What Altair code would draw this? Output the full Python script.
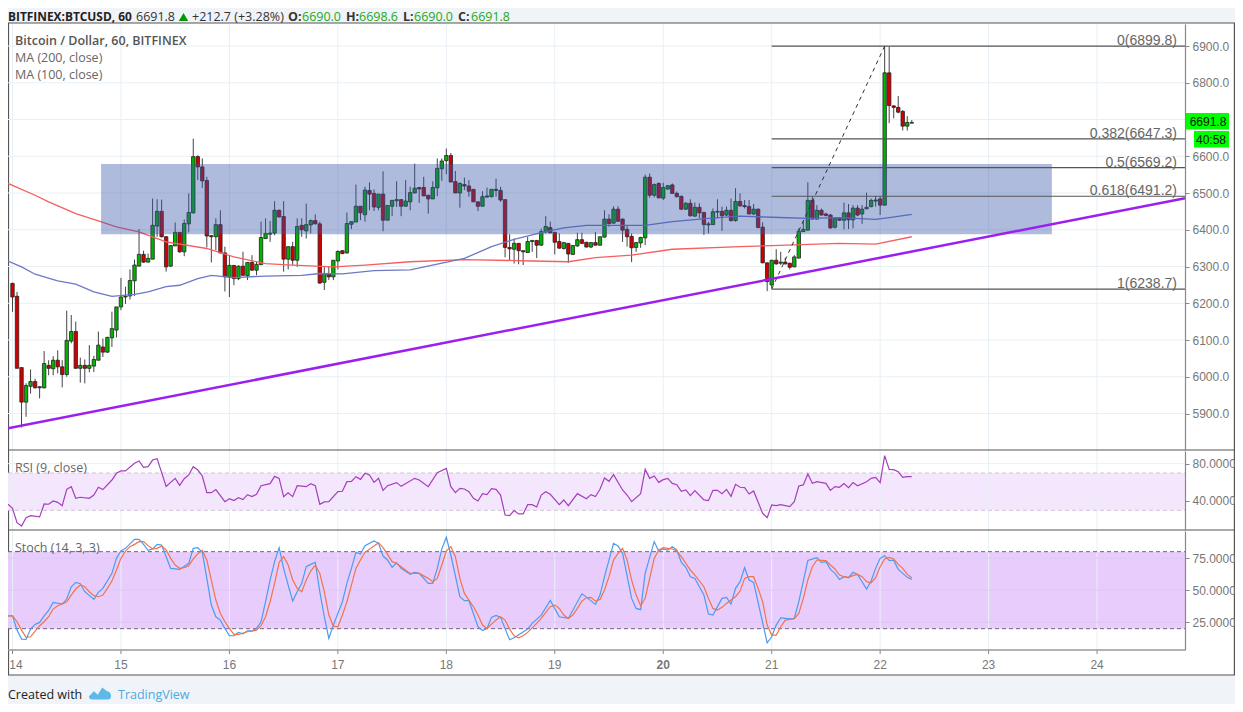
import altair as alt
import pandas as pd

opens = [6254,6219,6025,5931,5974,5987,5970,5970,6031,6022,
6045,6027,6006,6097,6123,6023,6031,6023,6029,6045,
6081,6067,6106,6127,6190,6217,6220,6261,6301,6333,
6312,6320,6410,6450,6381,6301,6356,6393,6340,6416,
6446,6599,6571,6534,6384,6381,6414,6337,6271,6303,
6267,6301,6275,6311,6290,6305,6376,6388,6391,6453,
6436,6320,6354,6317,6412,6397,6413,6425,6416,6257,
6280,6272,6315,6343,6337,6415,6421,6464,6441,6507,
6499,6461,6497,6426,6464,6479,6482,6464,6476,6500,
6515,6515,6494,6484,6514,6566,6588,6602,6531,6500,
6523,6519,6510,6476,6464,6489,6490,6510,6507,6482,
6352,6347,6363,6343,6338,6368,6371,6358,6394,6406,
6393,6368,6349,6363,6333,6356,6373,6366,6353,6365,
6358,6380,6429,6418,6456,6429,6401,6382,6352,6364,
6378,6543,6494,6526,6486,6511,6522,6499,6491,6456,
6472,6437,6461,6447,6413,6414,6448,6450,6440,6453,
6425,6477,6466,6463,6443,6456,6407,6310,6250,6317,
6309,6312,6309,6299,6323,6395,6399,6480,6429,6453,
6443,6440,6407,6431,6426,6446,6427,6459,6443,6457,
6463,6478,6484,6467,6827,6737,6733,6722,6682,6690]
closes = [6217,6023,5931,5976,5987,5970,5973,6036,6023,6045,
6027,6006,6099,6123,6023,6031,6023,6031,6047,6086,
6067,6107,6131,6190,6217,6219,6262,6304,6333,6312,
6322,6412,6450,6381,6299,6357,6393,6340,6417,6447,
6599,6571,6533,6383,6381,6414,6337,6272,6303,6267,
6301,6276,6311,6290,6306,6379,6390,6391,6453,6435,
6320,6354,6317,6409,6400,6414,6425,6416,6255,6280,
6272,6317,6341,6335,6417,6422,6464,6446,6508,6497,
6462,6497,6426,6466,6480,6482,6464,6478,6501,6513,
6511,6492,6484,6515,6567,6587,6602,6530,6500,6526,
6519,6505,6476,6464,6490,6492,6510,6507,6481,6352,
6348,6363,6343,6340,6368,6371,6358,6395,6409,6392,
6366,6350,6365,6334,6357,6373,6363,6353,6365,6358,
6381,6429,6417,6456,6423,6399,6381,6351,6365,6379,
6543,6494,6523,6487,6515,6520,6499,6490,6456,6472,
6438,6461,6446,6414,6416,6449,6450,6438,6453,6425,
6477,6465,6463,6443,6456,6406,6310,6259,6317,6307,
6312,6307,6298,6326,6396,6401,6480,6429,6453,6440,
6439,6405,6431,6426,6446,6427,6459,6440,6456,6461,
6480,6481,6467,6827,6738,6733,6720,6682,6692,6691.8]
highs = [6256,6231,6025,5982,6020,5995,5974,6070,6045,6056,
6072,6045,6180,6168,6150,6052,6047,6086,6057,6123,
6104,6109,6177,6190,6269,6245,6292,6319,6402,6343,
6335,6485,6483,6482,6383,6358,6420,6394,6428,6499,
6648,6603,6594,6544,6385,6431,6453,6354,6331,6303,
6303,6340,6312,6331,6313,6422,6431,6424,6478,6455,
6478,6354,6367,6431,6431,6471,6428,6442,6422,6301,
6301,6317,6344,6344,6447,6423,6523,6464,6517,6529,
6510,6497,6559,6466,6481,6532,6482,6535,6517,6580,
6515,6544,6494,6532,6594,6594,6621,6609,6560,6529,
6542,6535,6510,6476,6505,6515,6510,6539,6517,6482,
6388,6376,6363,6344,6381,6371,6371,6403,6437,6422,
6394,6390,6367,6363,6358,6392,6392,6367,6366,6394,
6381,6453,6442,6464,6464,6431,6413,6390,6367,6381,
6550,6553,6526,6529,6528,6521,6526,6504,6493,6476,
6483,6474,6472,6449,6422,6458,6483,6463,6463,6485,
6513,6499,6481,6481,6470,6458,6420,6311,6318,6347,
6340,6324,6310,6331,6404,6426,6529,6490,6467,6458,
6446,6443,6432,6431,6474,6470,6467,6467,6467,6501,
6485,6492,6490,6899.8,6898,6739,6764,6726,6709,6698.6]
lows = [6177,6023,5862,5891,5954,5968,5941,5968,6004,6004,
6009,5971,6000,6091,6022,5984,5982,6012,6013,6045,
6054,6065,6081,6107,6181,6198,6210,6220,6301,6310,
6311,6320,6381,6379,6286,6299,6356,6337,6328,6393,
6444,6535,6514,6352,6311,6344,6335,6232,6217,6249,
6263,6276,6263,6288,6276,6304,6376,6367,6385,6433,
6286,6292,6304,6299,6381,6376,6390,6415,6253,6236,
6263,6263,6292,6334,6335,6402,6421,6426,6422,6453,
6451,6453,6396,6426,6437,6462,6437,6464,6453,6500,
6473,6492,6444,6484,6491,6533,6551,6529,6500,6460,
6508,6490,6476,6451,6464,6487,6488,6490,6476,6325,
6315,6308,6306,6304,6337,6340,6323,6356,6390,6390,
6333,6348,6346,6310,6331,6354,6361,6352,6350,6357,
6357,6379,6408,6417,6422,6367,6354,6312,6340,6351,
6358,6487,6488,6485,6481,6508,6499,6488,6454,6454,
6436,6436,6431,6386,6390,6413,6431,6397,6437,6422,
6422,6463,6458,6442,6440,6404,6309,6233,6241,6305,
6304,6306,6292,6298,6322,6395,6397,6428,6428,6439,
6436,6403,6403,6424,6401,6402,6404,6437,6416,6456,
6461,6463,6440,6467,6690,6703,6717,6670,6670,6690]

ma200_h = [-1,5,8,14,19,23,28,34,43,49,56,62,71,78,88,100,115,123,129,137,146,161,168,183,191,199]
ma200_v = [6526,6494,6476,6444,6424,6408,6394,6367,6349,6326,6308,6304,6299,6304,6313,6319,6315,6313,6324,6331,6347,6354,6357,6363,6361,6381]
ma100_h = [-1,2,5,10,14,18,22,27,30,34,37,41,44,49,56,64,68,73,80,88,100,106,111,117,122,127,133,140,146,154,161,168,176,183,191,194,199]
ma100_v = [6315,6299,6279,6261,6252,6231,6219,6224,6231,6245,6249,6267,6276,6270,6274,6276,6281,6280,6289,6291,6322,6354,6374,6392,6405,6412,6412,6412,6422,6431,6437,6434,6431,6433,6428,6433,6442]

rsi_h = [-1,0,1,2,3,4,6,7,8,9,10,11,12,13,14,15,17,18,19,20,22,23,24,25,27,28,29,30,31,32,34,36,37,38,39,40,41,42,43,44,45,47,48,49,50,51,52,53,54,55,57,58,59,60,61,62,63,65,66,67,68,69,70,72,73,74,75,76,77,78,79,80,81,82,83,85,86,89,
90,92,94,96,97,98,99,100,101,102,103,104,105,106,107,108,109,110,111,112,113,114,115,116,117,118,119,121,122,123,125,127,128,129,130,131,132,133,135,136,137,139,140,141,142,143,144,145,146,147,148,149,150,151,153,154,155,156,157,158,159,160,161,162,163,164,166,167,168,169,170,172,173,174,175,176,177,178,180,181,182,183,
184,185,186,187,189,190,191,192,193,194,195,196,197,198,199]
rsi_v = [36.5,32.2,16.8,13.2,22.2,24.3,22.9,36.8,36.5,40,38.6,35,52.5,55.4,42.9,44,42.9,46.4,54.7,52.2,62.5,69.7,72.2,72.2,80.4,82.9,76.1,76.8,83.9,85.4,55.7,64.3,56.8,63.9,67.9,76.8,73.2,66.8,48.9,48.9,52.2,39.3,42.5,40.4,43.6,41.5,46.8,44.7,47.2,56.4,58.6,66.4,64.3,44.7,48.9,44.7,56.4,55.4,58.6,56.4,36.5,39,39.3,50,50.4,60.7,61.1,66.1,63.2,69.7,67.9,60,64.3,51.4,56.4,59.7,55.7,64.3,
62.5,55.4,70.4,75,55.4,48.9,53.6,52.9,50,42.9,40,47.9,46.8,53.2,52.5,46.4,25,24.3,29.7,26.1,26.1,36.1,36.1,33.6,46.4,50,47.2,36.1,41.1,35,47.9,42.5,46.8,44.7,52.5,64.7,61.1,68.2,51.8,46.4,39.3,47.9,73.9,64.3,66.8,60,62.9,64.3,58.9,57.5,50.4,51.8,45.7,51.1,41.1,40.4,51.4,51.4,47.9,52.5,45,57.9,54.7,54.3,47.5,50.7,26.8,22.2,35.7,35,36.1,34,39.3,56.1,57.2,68.9,58.9,60.7,58.9,51.4,55.4,54.7,
58.6,54.3,59.7,56.4,60.7,64.3,65.4,59.7,88.6,73.9,73.6,71.4,65.4,66.1,66.1]

k_h = [-1,0,1,2,3,4,5,6,7,8,9,11,12,13,14,15,16,18,19,20,22,23,24,25,27,28,29,30,31,32,33,34,35,37,39,40,41,42,43,44,45,46,47,48,49,50,51,52,53,54,55,56,57,58,59,60,61,62,63,64,65,66,67,68,69,70,71,73,74,75,76,77,78,80,81,82,83,84,85,86,88,89,
90,92,93,94,95,96,97,99,100,101,103,104,105,106,107,108,110,111,114,115,117,119,121,123,126,127,129,130,131,133,134,135,137,138,139,140,142,143,144,145,146,147,148,149,150,151,153,154,155,157,158,159,160,161,162,163,164,167,168,169,170,172,173,174,176,178,179,180,181,182,183,
184,185,186,187,188,189,190,191,192,193,194,195,196,197,198,199]
k_v = [30,30,18.9,11.9,11.6,19.7,23.3,24.9,30,34.2,40.5,39.2,43.1,52.7,56.1,55,48.8,42.8,48.3,51.4,63.1,74.8,80.5,82.6,89.6,89.6,85.7,81,82.1,85.7,85.2,76.1,67,66.2,70.9,82.6,83.1,79.5,59.2,38.4,29.3,26.7,20.2,14.5,14.5,17.1,16,18.4,18.4,20.2,25.4,41,57.9,72.2,83.1,67,54,41.5,48.8,55.3,68.3,70.1,71.7,48.8,29.3,12.4,22.8,41,55.3,67,79.5,78.2,84.7,88.3,86.5,76.6,73.5,67.8,71.2,67,62.3,63.9,
63.1,55.3,55.3,67,82.1,91.2,77.4,44.9,41.8,41.8,21.5,18.6,20.2,28.8,30.3,28.8,11.4,12.9,19.7,24.1,30.6,42,29.3,28,47.2,44.6,38.9,46.2,60.5,86.5,84.4,78.7,43.6,35.8,34.8,63.1,87.8,80.5,82.1,81.3,83.9,81.3,71.7,67.8,60.5,59.2,46.2,31.4,30.6,43.6,44.4,39.2,51.4,56.6,67.5,57.9,56.1,9,13.7,22.8,28.5,27.7,28,41,73.2,75.3,71.7,72.2,66.2,63.1,58.4,
60.5,59.7,63.9,62.3,56.6,50.9,57.1,67,74.8,76.9,73.2,73.2,66.2,63.1,60,58.4]

d_h = [-1,0,1,2,3,4,5,6,7,8,9,10,11,12,13,14,15,16,17,18,19,20,21,22,23,24,25,26,27,28,29,30,31,32,33,34,35,36,37,38,39,40,41,42,43,44,45,46,47,48,49,50,52,53,54,55,56,57,58,59,60,61,62,63,64,65,66,67,68,69,70,71,72,73,74,75,76,77,78,80,81,82,83,84,85,86,88,
90,92,93,94,95,96,97,98,99,100,101,102,103,104,105,106,107,108,109,110,111,112,113,114,116,117,118,119,120,121,122,123,124,125,126,127,128,129,130,131,132,133,134,135,136,137,138,139,140,141,142,143,144,145,146,147,148,149,150,151,153,154,155,156,157,158,159,160,161,162,163,164,165,166,167,168,169,170,171,173,174,175,176,177,178,180,181,182,183,
184,185,186,187,188,189,190,191,192,193,194,195,196,197,198,199]
d_v = [30,30,25.4,18.9,13.2,13.7,18.1,22.3,25.4,29.3,35.3,37.9,39.2,41,46.2,50.9,54,52.7,48.8,45.7,44.9,46.2,51.4,57.1,65.7,74.8,80.5,83.9,85.7,87.8,87.8,84.7,82.1,82.6,84.4,81.3,74.8,69.6,67,67.5,69.1,74.3,78.4,81,73.5,57.9,42.3,31.9,25.4,20.2,15.5,15.5,17.6,18.1,18.9,22.3,29.3,41,55.3,71.7,76.1,69.6,57.9,51.4,48.8,57.9,64.9,69.6,63.1,48.8,30.6,22,21.5,30.6,41,54,67,73.5,79.5,84.4,87,83.1,77.9,72.2,70.9,68.3,63.1,
63.1,59.2,56.6,59.2,69.6,80.5,83.9,76.1,59.2,47.5,42.3,37.1,30.6,22.8,20.2,23.6,26.7,29.3,26.7,19.7,14.5,12.9,14.5,17.1,24.1,28,32.7,37.1,38.4,35.8,30.6,28,30.6,35.8,41.5,44.1,44.4,41.5,42.8,50.1,60.5,73.5,78.7,82.6,73.5,57.9,46.2,37.9,43.6,59.2,74.8,81.3,83.1,82.6,82.1,80.5,76.1,70.9,65.7,61.8,52.7,43.6,35.8,34.5,36.6,39.7,42.3,44.9,49.3,59.2,60.5,60.5,51.4,41,22.8,15,15,21.5,26.7,27.7,31.9,43.6,57.9,68.3,73.5,73,69.6,66.5,61.8,
60.5,60,61.3,62.3,60.5,56.6,55.8,59.7,68.3,74.3,75.6,74.3,70.1,67,62.3,59.7]

day_hours = [0,24,48,72,96,120,144,168,192,216,240]
day_labels = ["14","15","16","17","18","19","20","21","22","23","24"]
day_weights = ["normal","normal","normal","normal","normal","normal","bold","normal","normal","normal","normal"]
price_ticks = [5900,6000,6100,6200,6300,6400,6500,6600,6800,6900]
price_grid = [5900,6000,6100,6200,6300,6400,6500,6600,6700,6800,6900]
rsi_ticks = [40,80]
stoch_ticks = [25,50,75]
fib_prices = [6899.8,6647.3,6569.2,6491.2,6238.7]
fib_labels = ["0(6899.8)","0.382(6647.3)","0.5(6569.2)","0.618(6491.2)","1(6238.7)"]
trend_h = [-0.996,259.46]
trend_v = [5860,6486]
swing_h = [168,193]
swing_v = [6238.7,6899.8]

SANS = "Open Sans"
ARIAL = "Liberation Sans"
GRID = "#e8f0f5"
LINE = "#555555"
RIGHT = 1226.4

XS = alt.Scale(domain=[-0.996,259.46], range=[0,1177], nice=False, zero=False, padding=0)
YM = alt.Scale(domain=[5800.7,6959.9], range=[442,16], nice=False, zero=False, padding=0)
YR = alt.Scale(domain=[8.9,93.6], range=[522,443], nice=False, zero=False)
YS = alt.Scale(domain=[3.4,96.1], range=[642,523], nice=False, zero=False)

def X(f="h"):
    return alt.X(f"{f}:Q", scale=XS, axis=None, title=None)

def Y(s, f="v"):
    return alt.Y(f"{f}:Q", scale=s, axis=None, title=None)

def px(v):
    return alt.value(v)

def df1(**k):
    return pd.DataFrame(k)

def yaxis(s, vals, fmt):
    return alt.Y("v:Q", scale=s, title=None, axis=alt.Axis(
        orient="right", offset=-50, values=vals, format=fmt, grid=False, title=None,
        domainColor="#888888", domainWidth=1.2, tickColor="#888888", tickSize=4,
        labelColor="#777777", labelFont=ARIAL, labelFontSize=12, labelPadding=3, zindex=1))

def hrule(vals, s, color, **mk):
    return alt.Chart(df1(v=vals)).mark_rule(color=color, **mk).encode(
        x=px(0), x2=px(1177), y=Y(s))

def band(top, bottom, s, fill, opacity=1.0):
    return alt.Chart(df1(a=[top], b=[bottom])).mark_rect(fill=fill, opacity=opacity).encode(
        x=px(0), x2=px(1177), y=Y(s, "a"), y2=alt.Y2("b:Q"))

def line(hs, vs, s, color, width=1.0, **mk):
    return alt.Chart(df1(h=hs, v=vs)).mark_line(color=color, strokeWidth=width, **mk).encode(
        x=X(), y=Y(s))

def text(t, x, y, size=12.5, color="#555555", weight="normal", font=SANS, align="left"):
    return alt.Chart(df1(t=[t])).mark_text(
        fontSize=size, color=color, fontWeight=weight, font=font, align=align, baseline="middle"
    ).encode(text="t:N", x=px(x - 8), y=px(y - 8))

candles = pd.DataFrame({"h": list(range(len(opens))), "o": opens, "c": closes, "hi": highs, "lo": lows})
days = pd.DataFrame({"h": day_hours, "t": day_labels, "w": day_weights})

layers = []
# white panel and frame
layers.append(alt.Chart(df1(a=[0])).mark_rect(fill="white", stroke=LINE, strokeWidth=1.2).encode(
    x=px(0.5), x2=px(RIGHT), y=px(15), y2=px(667)))
# purple study bands
layers.append(band(70, 30, YR, "#f4e6fd"))
layers.append(band(80, 20, YS, "#e8cdfc"))
# vertical grid, day ticks, baseline and labels
layers.append(alt.Chart(days).mark_rule(color=GRID, strokeWidth=1).encode(x=X(), y=px(16), y2=px(642)))
layers.append(alt.Chart(days).mark_rule(color="#888888", strokeWidth=1).encode(x=X(), y=px(642), y2=px(646)))
layers.append(alt.Chart(df1(a=[0])).mark_rule(color="#999999", strokeWidth=1.5).encode(x=px(0), x2=px(1177), y=px(642)))
for weight in ["normal", "bold"]:
    layers.append(alt.Chart(days[(days["w"] == weight) & (days["t"] != "14")]).mark_text(
        fontSize=12, font=ARIAL, color="#777777", fontWeight=weight, align="center", baseline="middle"
    ).encode(x=X(), y=px(657), text="t:N"))
layers.append(alt.Chart(days[days["t"] == "14"]).mark_text(
    fontSize=12, font=ARIAL, color="#777777", align="center", baseline="middle", dx=3.5
).encode(x=X(), y=px(657), text="t:N"))
# horizontal grid and price axes
layers.append(alt.Chart(df1(v=price_grid)).mark_rule(color=GRID).encode(
    x=px(0), x2=px(1177), y=yaxis(YM, price_ticks, ".1f")))
layers.append(alt.Chart(df1(v=rsi_ticks)).mark_rule(color=GRID).encode(
    x=px(0), x2=px(1177), y=yaxis(YR, rsi_ticks, ".4f")))
layers.append(alt.Chart(df1(v=stoch_ticks)).mark_rule(color="#dfc8f5").encode(
    x=px(0), x2=px(1177), y=yaxis(YS, stoch_ticks, ".4f")))
layers.append(hrule([70, 30], YR, "#cfc6d6", strokeDash=[4, 3], strokeWidth=1))
layers.append(hrule([80, 20], YS, "#6f6678", strokeDash=[4, 3], strokeWidth=1))
# candles
layers.append(alt.Chart(candles).mark_rule(color="#444444", strokeWidth=1).encode(
    x=X(), y=Y(YM, "lo"), y2=alt.Y2("hi:Q")))
layers.append(alt.Chart(candles).mark_bar(size=3.4, stroke="#222222", strokeWidth=0.8, orient="vertical").encode(
    x=X(), y=Y(YM, "o"), y2=alt.Y2("c:Q"),
    fill=alt.condition("datum.c>=datum.o", alt.value("#00b400"), alt.value("#d00000"))))
# moving averages
layers.append(line(ma200_h, ma200_v, YM, "#f65f5f", 1.3))
layers.append(line(ma100_h, ma100_v, YM, "#6d78c4", 1.3))
# box
layers.append(alt.Chart(df1(a=[19.6], b=[230.0], c=[6579], d=[6388])).mark_rect(fill="#3455aa", opacity=0.4).encode(
    x=X("a"), x2=alt.X2("b:Q"), y=Y(YM, "c"), y2=alt.Y2("d:Q")))
# fibonacci
layers.append(alt.Chart(df1(v=fib_prices, a=[168]*5, b=[259.46]*5)).mark_rule(color="#555555", strokeWidth=1.2).encode(
    x=X("a"), x2=alt.X2("b:Q"), y=Y(YM)))
layers.append(alt.Chart(df1(v=fib_prices, t=fib_labels)).mark_text(
    fontSize=14, font=ARIAL, color="#666666", align="right", baseline="alphabetic", dy=-1).encode(
    x=px(1169), y=Y(YM), text="t:N"))
layers.append(line(swing_h, swing_v, YM, "#333333", 1.0, strokeDash=[4, 4]))
layers.append(line(trend_h, trend_v, YM, "#9b1ff0", 2.5))
# studies
layers.append(line(rsi_h, rsi_v, YR, "#a53fbb", 1.2))
layers.append(line(k_h, k_v, YS, "#4a9bf2", 1.2))
layers.append(line(d_h, d_v, YS, "#f0744a", 1.2))
# separators
layers.append(alt.Chart(df1(a=[442, 522])).mark_rule(color=LINE, strokeWidth=1.2).encode(
    x=px(0), x2=px(RIGHT), y=alt.Y("a:Q", scale=alt.Scale(domain=[0, 696], range=[0, 696]), axis=None, title=None)))
# price tags
layers.append(alt.Chart(df1(a=[0])).mark_rect(fill="#00ff00").encode(x=px(1177), x2=px(1221), y=px(105), y2=px(121.5)))
layers.append(alt.Chart(df1(a=[0])).mark_rect(fill="#00ff00").encode(x=px(1186), x2=px(1221), y=px(123), y2=px(139.5)))
layers.append(text("6691.8", 1208, 121.5, 12, "#111111", font=ARIAL, align="center"))
layers.append(text("40:58", 1211, 140, 12, "#111111", font=ARIAL, align="center"))
# titles in panels
layers.append(text("Bitcoin / Dollar, 60, BITFINEX", 15, 41, 12.5, "#555555", 600))
layers.append(text("MA (200, close)", 15, 58, 12.5, "#666666"))
layers.append(text("MA (100, close)", 15, 75, 12.5, "#666666"))
layers.append(text("RSI (9, close)", 15, 468, 12.5, "#666666"))
layers.append(text("Stoch (14, 3, 3)", 15, 548, 12.5, "#666666"))
# header
HY = 17
GREEN = "#22aa22"
layers.append(text("BITFINEX:BTCUSD, 60", 8, HY, 11.9, "#222222", "bold"))
layers.append(text("6691.8", 136, HY, 12.5, "#333333"))
layers.append(alt.Chart(df1(a=[0])).mark_point(shape="triangle-up", filled=True, size=90, color="#009900", opacity=1).encode(
    x=px(183.5 - 8), y=px(HY - 8)))
layers.append(text("+212.7 (+3.28%)", 192, HY, 12.5, "#333333"))
layers.append(text("O:", 288, HY, 12.5, "#333333", "bold"))
layers.append(text("6690.0", 302, HY, 12.5, GREEN))
layers.append(text("H:", 346, HY, 12.5, "#333333", "bold"))
layers.append(text("6698.6", 359, HY, 12.5, GREEN))
layers.append(text("L:", 403, HY, 12.5, "#333333", "bold"))
layers.append(text("6690.0", 414, HY, 12.5, GREEN))
layers.append(text("C:", 458, HY, 12.5, "#333333", "bold"))
layers.append(text("6691.8", 471, HY, 12.5, GREEN))
# footer
layers.append(text("Created with", 8, 695, 12.5, "#222222"))
layers.append(alt.Chart(df1(a=[0])).mark_point(
    shape="M-1,0.3 L-0.55,-0.15 L-0.2,0.15 L0.2,-0.5 L0.65,-0.15 Q1,-0.1 1,0.3 Q1,0.6 0.7,0.6 L-0.7,0.6 Q-1,0.6 -1,0.3Z",
    filled=True, size=484, color="#5cb9ea", opacity=1).encode(x=px(100 - 8), y=px(693 - 8)))
layers.append(text("TradingView", 118, 695, 12.5, "#4fa9e4"))

chart = alt.layer(*layers).resolve_scale(y="independent").properties(
    width=1227, height=696, padding=0, background="#f0f3f7",
    autosize=alt.AutoSizeParams(type="none")
).configure_view(stroke=None)

chart.save("out.html", embed_options={"renderer": "svg", "actions": False})
